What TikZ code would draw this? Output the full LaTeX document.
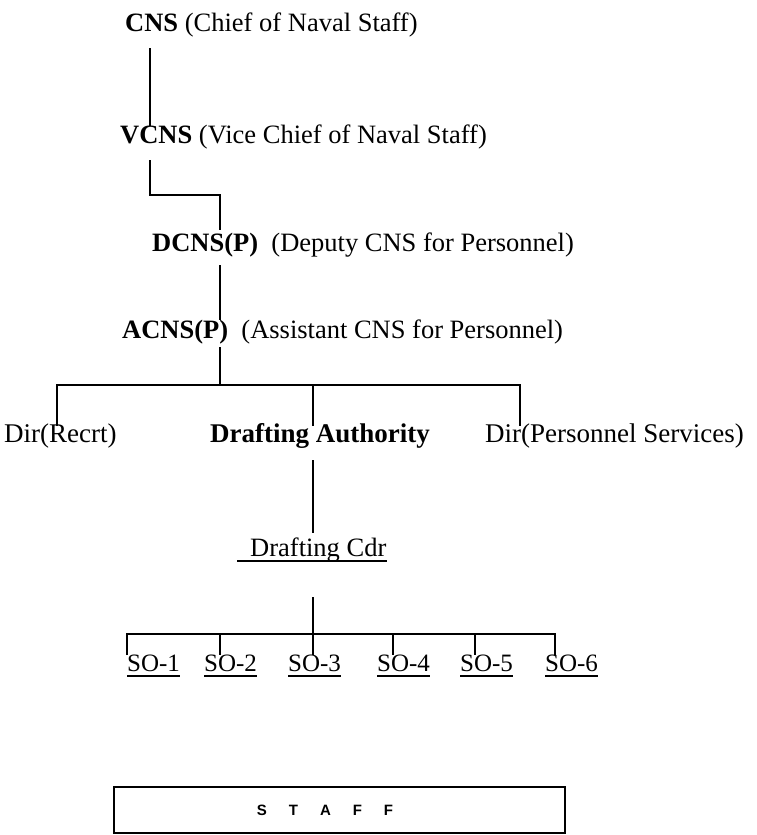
\documentclass[tikz,border=0pt]{standalone}
\usepackage{fontspec}
\setmainfont{Liberation Serif}
\newfontfamily\stafffont{Liberation Sans}
\begin{document}
\begin{tikzpicture}[x=1pt,y=-1pt,
  txt/.style={inner sep=0pt, anchor=base west, font=\fontsize{26.5}{30}\selectfont},
  rowtxt/.style={txt, font=\fontsize{27}{31}\selectfont},
  sotxt/.style={txt, font=\fontsize{25}{29}\selectfont},
  ln/.style={line width=1.5pt},
  ul/.style={line width=1.3pt}]
\useasboundingbox (0,0) rectangle (757,835);
% text nodes
\node[txt] (cns) at (125,31) {\textbf{CNS} (Chief of Naval Staff)};
\node[txt] (vcns) at (120,143) {\textbf{VCNS} (Vice Chief of Naval Staff)};
\node[txt] (dcns) at (152,251) {\textbf{DCNS(P)}\ \ (Deputy CNS for Personnel)};
\node[txt] (acns) at (122,338) {\textbf{ACNS(P)}\ \ (Assistant CNS for Personnel)};
\node[rowtxt] (recrt) at (4,442) {Dir(Recrt)};
\node[rowtxt] (auth) at (210,442) {\textbf{Drafting Authority}};
\node[rowtxt] (pers) at (485,442) {Dir(Personnel Services)};
\node[txt] (cdr) at (250,556) {Drafting Cdr};
\node[sotxt] (so1) at (127,671) {SO-1};
\node[sotxt] (so2) at (204,671) {SO-2};
\node[sotxt] (so3) at (288,671) {SO-3};
\node[sotxt] (so4) at (377,671) {SO-4};
\node[sotxt] (so5) at (460,671) {SO-5};
\node[sotxt] (so6) at (545,671) {SO-6};
\node[draw, line width=1.3pt, minimum width=451pt, minimum height=46pt, inner sep=0pt] (staff) at (339.5,810) {};
\node[inner sep=0pt, font=\stafffont\bfseries\fontsize{15}{17}\selectfont] (stafftxt) at (325,810)
  {S\hspace{22pt}T\hspace{22pt}A\hspace{22pt}F\hspace{22pt}F};
% coordinates
\coordinate (a1) at (150,48);  \coordinate (a2) at (150,126);
\coordinate (b1) at (150,160); \coordinate (b2) at (150,195);
\coordinate (b3) at (220,195); \coordinate (b4) at (220,230);
\coordinate (c1) at (220,265); \coordinate (c2) at (220,320);
\coordinate (d1) at (220,347); \coordinate (d2) at (220,385);
\coordinate (bl) at (57,385);  \coordinate (br) at (520,385); \coordinate (bm) at (313,385);
\coordinate (e1) at (313,460); \coordinate (e2) at (313,533);
\coordinate (u1) at (237,561); \coordinate (u2) at (387,561);
\coordinate (f1) at (313,597); \coordinate (f2) at (313,634);
\coordinate (gl) at (127,634); \coordinate (gr) at (555,634);
% connectors
\draw[ln] (a1) -- (a2);
\draw[ln] (b1) -- (b2) -- (b3) -- (b4);
\draw[ln] (c1) -- (c2);
\draw[ln] (d1) -- (d2);
\draw[ln] (bl |- 0,426) -- (bl) -- (br) -- (br |- 0,426);
\draw[ln] (bm) -- (bm |- 0,426);
\draw[ln] (e1) -- (e2);
\draw[ul] (u1) -- (u2);
\draw[ln] (f1) -- (f2);
\draw[ln] (gl |- 0,655) -- (gl) -- (gr) -- (gr |- 0,655);
\foreach \x in {220,313,393,475}{\draw[ln] (\x,634) -- (\x,655);}
\foreach \s in {so1,so2,so3,so4,so5,so6}{\draw[ul] ([yshift=-5pt]\s.base west) -- ([yshift=-5pt]\s.base east);}
\end{tikzpicture}
\end{document}
